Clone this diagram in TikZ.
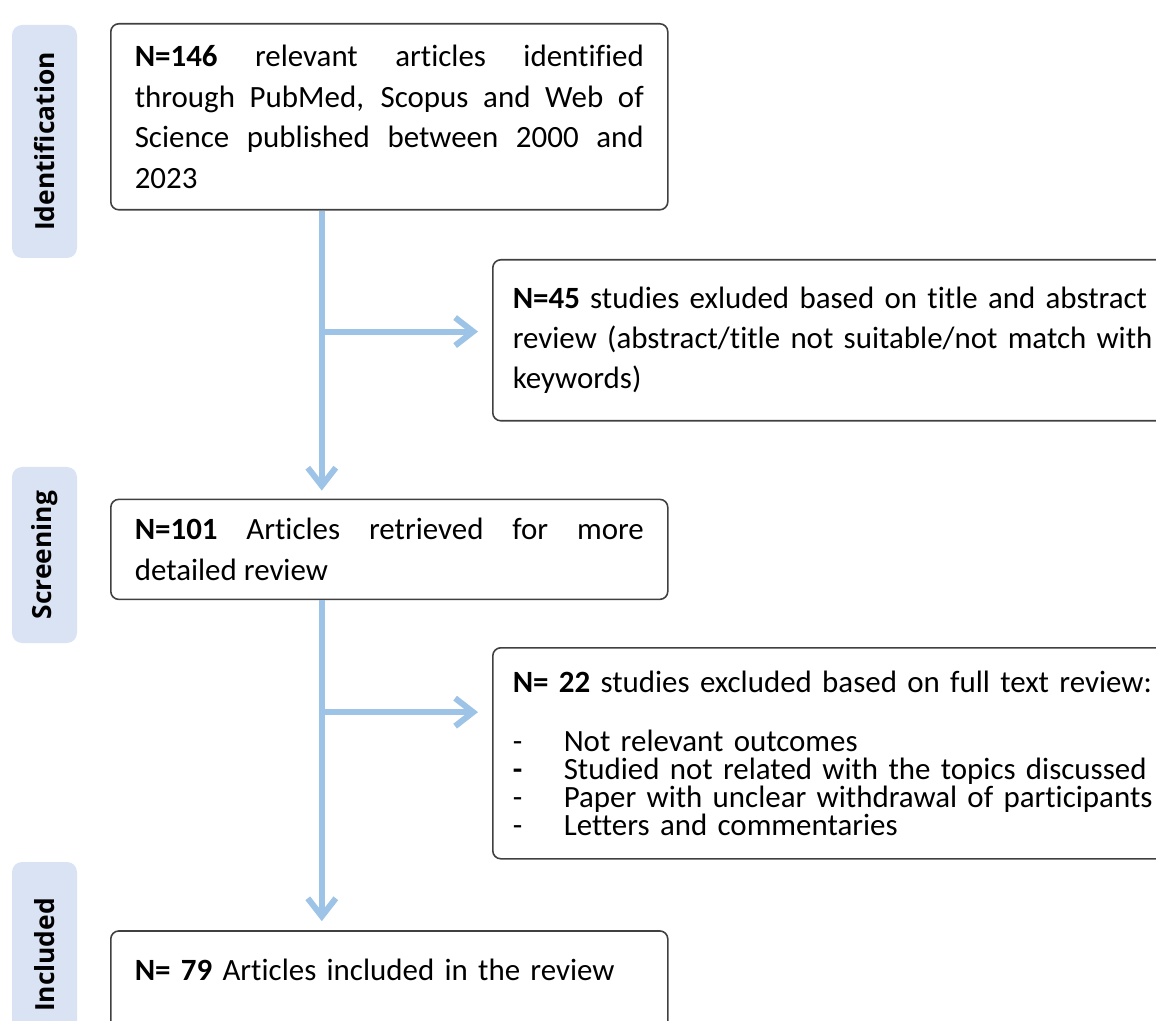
\documentclass[tikz,border=0pt]{standalone}
\usepackage{fontspec}
\setmainfont{Carlito}[Ligatures=NoCommon]
\newfontfamily\stagefont{Open Sans}
\usetikzlibrary{positioning,arrows.meta}
\definecolor{flowblue}{HTML}{9DC3E6}
\definecolor{stageblue}{HTML}{DAE3F3}
\definecolor{edgegray}{HTML}{404040}

\begin{document}
\begin{tikzpicture}[font=\fontsize{17.6}{23}\selectfont]

\tikzstyle{box}=[draw=edgegray,line width=0.9pt,rounded corners=0.16cm,align=justify,text width=10.18cm,minimum width=11.14cm,inner xsep=0.48cm]
\tikzstyle{side}=[draw=edgegray,line width=0.9pt,rounded corners=0.16cm,align=left,text width=13.2cm,inner xsep=0.4cm,anchor=north west]
\tikzstyle{stage}=[fill=stageblue,rounded corners=0.2cm,rotate=90,minimum height=1.3cm,font=\stagefont\bfseries\fontsize{15}{18}\selectfont]
\tikzstyle{flow}=[draw=flowblue,line width=0.12cm,-{Straight Barb[length=0.36cm,width=0.56cm]}]

    \useasboundingbox (0,0) rectangle (23.12,-20.42);
    \clip (0,0) rectangle (23.12,-20.42);

    \node[stage,minimum width=4.66cm]            (lid)  at (0.89,-2.83) {Identification};
    \node[stage,minimum width=3.52cm]            (lscr) at (0.89,-11.1) {Screening};
    \node[stage,minimum width=3.72cm]            (linc) at (0.89,-19.1) {Included};

    \node[box,minimum height=3.72cm,anchor=north west] (ids) at (2.2,-0.46)
        {\textbf{N=146} relevant articles identified\linebreak through PubMed, Scopus and Web of\linebreak Science published between 2000 and\linebreak 2023};
    \node[box,minimum height=2cm,below=5.76cm of ids]  (scr)
        {\textbf{N=101} Articles retrieved for more\linebreak detailed review};
    \node[box,align=left,text height=0.45cm,text depth=2.4cm,inner ysep=0.55cm,below=6.6cm of scr] (inc)
        {\textbf{N= 79} Articles included in the review};

    \node[side,minimum height=3.22cm] (ex1) at (9.84,-5.18)
        {\textbf{N=45} studies exluded based on title and abstract\\ review (abstract/title not suitable/not match with\\ keywords)};
    \node[side,minimum height=4.22cm] (ex2) at (9.84,-12.94)
        {\textbf{N= 22} studies excluded based on full text review:\\[0.39cm]
         \makebox[1.02cm][l]{-}Not relevant outcomes\\[-0.25cm]
         \makebox[1.02cm][l]{\textbf{-}}Studied not related with the topics discussed\\[-0.25cm]
         \makebox[1.02cm][l]{-}Paper with unclear withdrawal of participants\\[-0.25cm]
         \makebox[1.02cm][l]{-}Letters and commentaries};

    \coordinate (d1) at ([xshift=-1.35cm]ids.south);
    \coordinate (f1) at ([yshift=-2.42cm]d1);
    \coordinate (d2) at ([xshift=-1.35cm]scr.south);
    \coordinate (f2) at ([yshift=-2.24cm]d2);

    \path
    (d1) edge[flow,shorten >=0.16cm] (d1 |- scr.north)
    (f1) edge[flow,shorten >=0.28cm] (f1 -| ex1.west)
    (d2) edge[flow,shorten >=0.18cm] (d2 |- inc.north)
    (f2) edge[flow,shorten >=0.28cm] (f2 -| ex2.west);

\end{tikzpicture}
\end{document}
